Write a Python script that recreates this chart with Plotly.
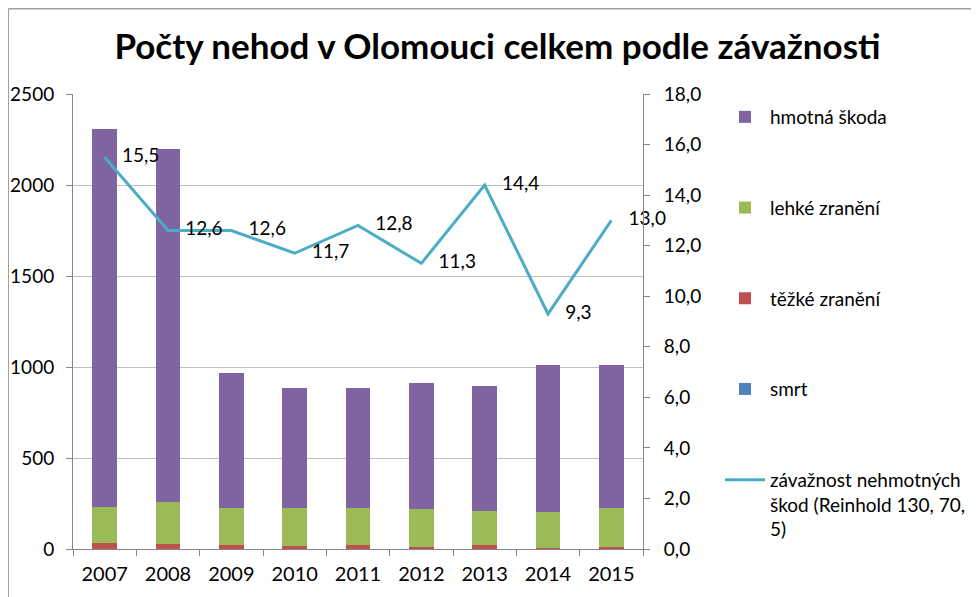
import plotly.graph_objects as go

years = ['2007', '2008', '2009', '2010', '2011', '2012', '2013', '2014', '2015']
smrt = [2, 2, 1, 1, 1, 1, 1, 1, 5]
tezke = [33, 27, 21, 14, 21, 8, 21, 3, 8]
lehke = [197, 229, 205, 212, 205, 209, 185, 197, 214]
hmotna = [2076, 1940, 740, 658, 658, 694, 689, 810, 784]
zavaznost = [15.5, 12.6, 12.6, 11.7, 12.8, 11.3, 14.4, 9.3, 13.0]

FONT = 'Lato'
W, H = 979, 597
OFF = 8  # page body margin of the browser
# plot area in screen pixels
L, R, T, B = 73, 643, 94, 549


def px_x(p):
    return (p - L) / (R - L)


def px_y(q):
    return (B - q) / (B - T)


fig = go.Figure()

bars = [
    ('smrt', smrt, '#4F81BD', 4),
    ('těžké zranění', tezke, '#C0504D', 3),
    ('lehké zranění', lehke, '#9BBB59', 2),
    ('hmotná škoda', hmotna, '#8064A2', 1),
]
for name, vals, color, rank in bars:
    fig.add_trace(go.Bar(
        x=years, y=vals, name=name, marker_color=color, marker_line_width=0,
        legendrank=rank, legendgroup=name,
    ))

fig.add_trace(go.Scatter(
    x=years, y=zavaznost, yaxis='y2', mode='lines+markers+text',
    name='závažnost nehmotných<br>škod (Reinhold 130, 70,<br>5)',
    line=dict(color='#4BACC6', width=3),
    marker=dict(size=26, color='rgba(0,0,0,0)', line=dict(width=0)),
    text=[f'{v:.1f}'.replace('.', ',') for v in zavaznost],
    textposition='middle right',
    textfont=dict(family=FONT, size=19, color='#000000'),
    cliponaxis=False,
    legendrank=5, legendgroup='line',
))

fig.update_layout(
    width=W, height=H,
    barmode='stack', bargap=0.61,
    paper_bgcolor='white', plot_bgcolor='white',
    margin=dict(l=L - OFF, r=W - (R - OFF), t=T - OFF, b=H - (B - OFF)),
    font=dict(family=FONT, size=19, color='#000000'),
    separators=', ',
    title=dict(text='<b>Počty nehod v Olomouci celkem podle závažnosti</b>',
               x=0.5, xref='container', xanchor='center',
               y=1 - (47 - OFF) / H, yref='container', yanchor='middle',
               font=dict(family=FONT, size=35, color='#000000')),
    xaxis=dict(
        range=[-0.5, len(years) - 0.5],
        showline=True, linecolor='#868686', linewidth=1,
        ticks='outside', ticklen=6, tickcolor='#868686',
        tickson='boundaries', showgrid=False,
        ticklabelstandoff=7, automargin=False,
        tickfont=dict(size=20),
    ),
    yaxis=dict(
        range=[0, 2500], dtick=500,
        showline=True, linecolor='#868686', linewidth=1,
        ticks='outside', ticklen=6, tickcolor='#868686',
        showgrid=True, gridcolor='#BFBFBF', gridwidth=1,
        zeroline=False, ticklabelstandoff=8, automargin=False,
        tickfont=dict(size=19),
    ),
    yaxis2=dict(
        range=[0, 18], dtick=2, tickformat='.1f', overlaying='y', side='right',
        showline=True, linecolor='#868686', linewidth=1,
        ticks='outside', ticklen=6, tickcolor='#868686',
        showgrid=False, zeroline=False, ticklabelstandoff=10, automargin=False,
        tickfont=dict(size=19),
    ),
    legend=dict(
        xref='container', yref='container',
        x=(720 - OFF) / W, xanchor='left', y=1 - (98 - OFF) / H, yanchor='top',
        tracegroupgap=63, valign='top', bgcolor='rgba(0,0,0,0)',
        font=dict(family=FONT, size=19, color='#000000'),
        itemwidth=40, maxheight=580,
    ),
    showlegend=True,
)

# chart frame (top and left edges)
fig.add_shape(type='line', xref='paper', yref='paper',
              x0=px_x(OFF + 0.5), x1=px_x(W + OFF), y0=px_y(OFF + 0.5), y1=px_y(OFF + 0.5),
              line=dict(color='#A0A0A0', width=2))
fig.add_shape(type='line', xref='paper', yref='paper',
              x0=px_x(OFF + 0.5), x1=px_x(OFF + 0.5), y0=px_y(OFF + 0.5), y1=px_y(H + OFF),
              line=dict(color='#A0A0A0', width=1))

fig.write_html('out.html')
